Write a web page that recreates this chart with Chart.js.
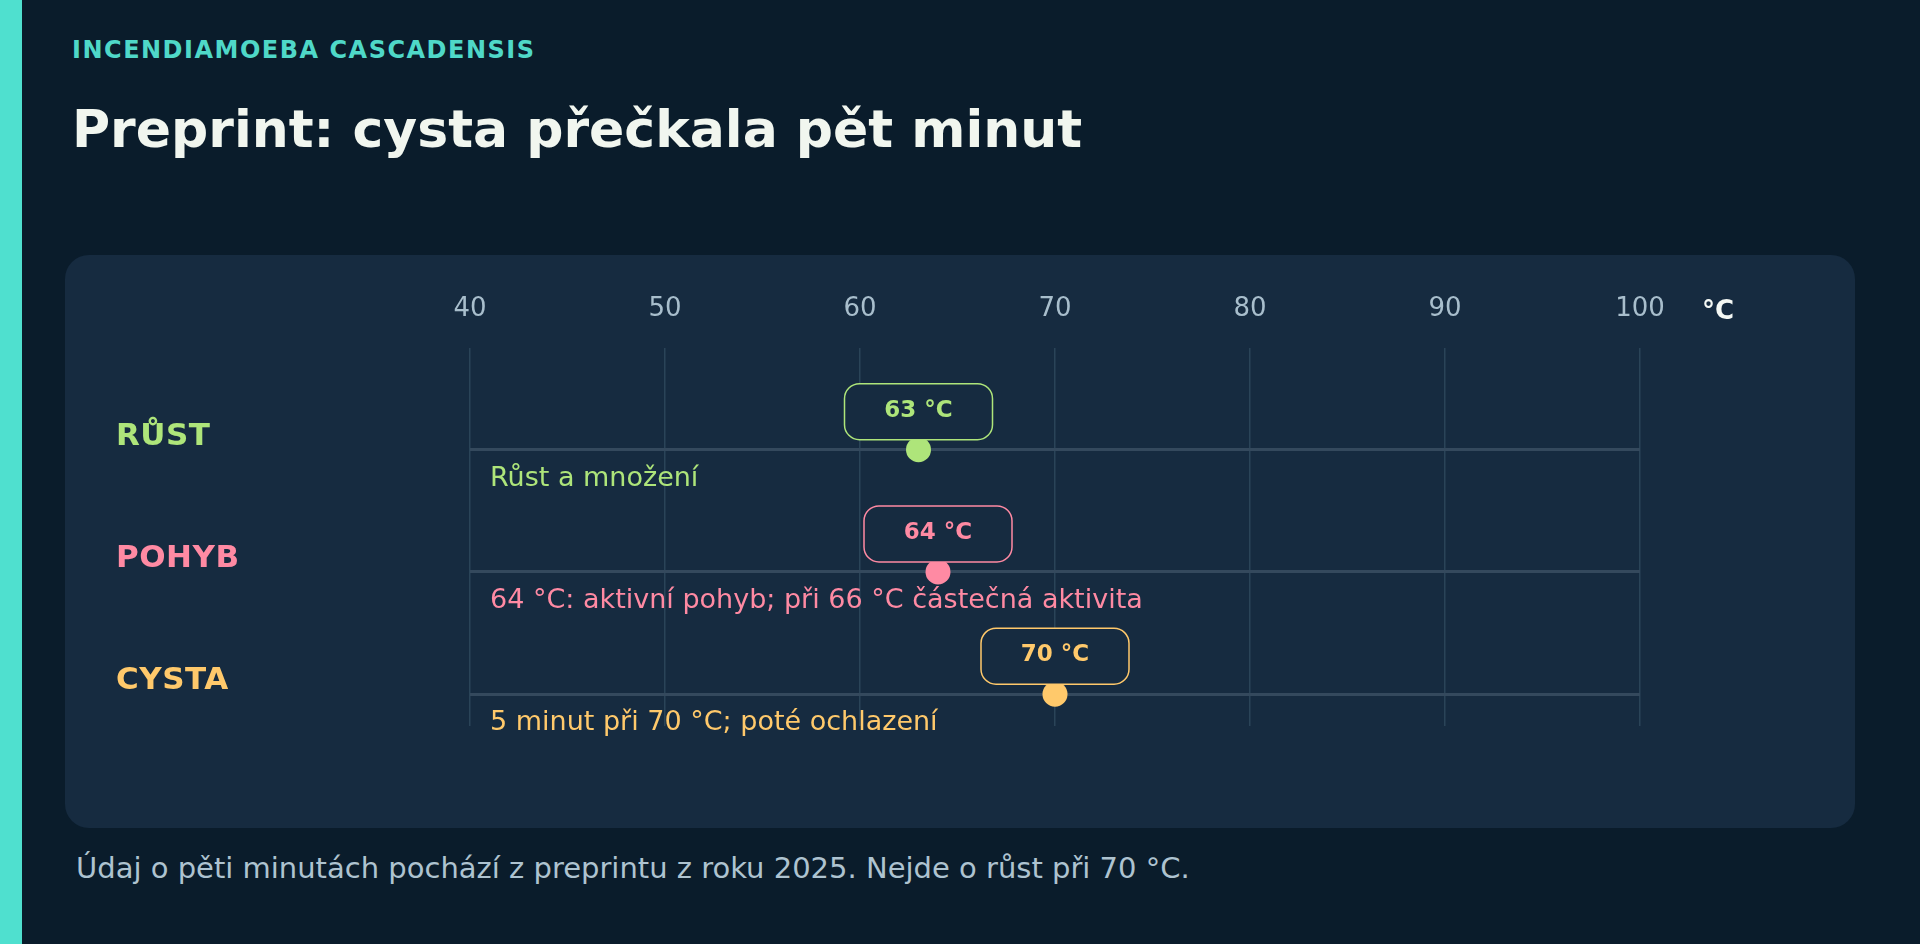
<!DOCTYPE html>
<html>
<head>
    <title>Incendiamoeba cascadensis</title>
    <meta charset="UTF-8">
    <script src="https://cdn.jsdelivr.net/npm/chart.js@4/dist/chart.umd.min.js"></script>
    <style>
        body { margin: 0; background: #0a1c2b; font-family: "DejaVu Sans", sans-serif; width: 1920px; height: 944px; overflow: hidden; position: relative; }
        .accent { position: absolute; left: 0; top: 0; width: 22px; height: 944px; background: #4fe0cf; }
        .kicker { position: absolute; left: 72px; top: 38px; font-size: 24px; line-height: 1; font-weight: bold; color: #4fd8c8; letter-spacing: 1.5px; }
        h1 { position: absolute; left: 72px; top: 103px; margin: 0; font-size: 52px; line-height: 1; font-weight: bold; color: #f1f6ef; }
        .panel { position: absolute; left: 65px; top: 255px; width: 1790px; height: 573px; background: #162b40; border-radius: 24px; }
        .foot { position: absolute; left: 76px; top: 854px; font-size: 29px; line-height: 1; color: #aec3d0; }
    </style>
</head>
<body>
<div class="accent"></div>
<div class="kicker">INCENDIAMOEBA CASCADENSIS</div>
<h1>Preprint: cysta přečkala pět minut</h1>
<div class="panel"><canvas id="myChart"></canvas></div>
<div class="foot">Údaj o pěti minutách pochází z preprintu z roku 2025. Nejde o růst při 70 °C.</div>
<script>
    // data
    const rows = ['RŮST', 'POHYB', 'CYSTA'];
    const temps = [63, 64, 70];
    const badges = ['63 °C', '64 °C', '70 °C'];
    const notes = ['Růst a množení', '64 °C: aktivní pohyb; při 66 °C částečná aktivita', '5 minut při 70 °C; poté ochlazení'];
    const xMin = 40, xMax = 100, xStep = 10;
    const unit = '°C';

    const colors = ['#aee57a', '#ff8aa3', '#ffc96b'];
    const panelBg = '#162b40';

    function roundRect(ctx, x, y, w, h, r) {
        ctx.beginPath();
        ctx.moveTo(x + r, y);
        ctx.arcTo(x + w, y, x + w, y + h, r);
        ctx.arcTo(x + w, y + h, x, y + h, r);
        ctx.arcTo(x, y + h, x, y, r);
        ctx.arcTo(x, y, x + w, y, r);
        ctx.closePath();
    }

    const annotate = {
        id: 'annotate',
        afterDatasetsDraw(chart) {
            const ctx = chart.ctx;
            const xs = chart.scales.x, ys = chart.scales.y;
            const area = chart.chartArea;
            ctx.save();
            rows.forEach((name, i) => {
                const px = xs.getPixelForValue(temps[i]);
                const py = ys.getPixelForValue(i);
                // badge
                const w = 148, h = 56;
                roundRect(ctx, px - w / 2, py - 66, w, h, 15);
                ctx.fillStyle = panelBg;
                ctx.fill();
                ctx.lineWidth = 1.5;
                ctx.strokeStyle = colors[i];
                ctx.stroke();
                ctx.fillStyle = colors[i];
                ctx.font = 'bold 23px "DejaVu Sans"';
                ctx.textAlign = 'center';
                ctx.textBaseline = 'middle';
                ctx.fillText(badges[i], px, py - 39);
                // note
                ctx.font = '27px "DejaVu Sans"';
                ctx.textAlign = 'left';
                ctx.fillText(notes[i], area.left + 20, py + 29);
                // row label
                ctx.font = 'bold 31px "DejaVu Sans"';
                ctx.letterSpacing = '0.5px';
                ctx.fillText(name, 51, py - 13);
                ctx.letterSpacing = '0px';
            });
            ctx.fillStyle = '#f4f8f4';
            ctx.font = 'bold 26px "DejaVu Sans"';
            ctx.textAlign = 'left';
            ctx.textBaseline = 'middle';
            ctx.fillText(unit, area.right + 62, 57);
            ctx.restore();
        }
    };

    let ctx = document.getElementById('myChart').getContext('2d');
    let myChart = new Chart(ctx, {
        type: 'scatter',
        data: {
            datasets: [{
                data: temps.map((t, i) => ({x: t, y: i})),
                pointRadius: 12.5,
                pointHoverRadius: 12.5,
                pointBorderWidth: 0,
                pointBackgroundColor: colors
            }]
        },
        options: {
            responsive: true,
            maintainAspectRatio: false,
            animation: false,
            layout: {padding: {top: 16, left: 405, right: 215, bottom: 102}},
            plugins: {legend: {display: false}, tooltip: {enabled: false}},
            scales: {
                x: {
                    position: 'top',
                    min: xMin,
                    max: xMax,
                    ticks: {stepSize: xStep, color: '#a8becc', font: {size: 26, family: 'DejaVu Sans'}, padding: 23},
                    grid: {color: '#2a4458', lineWidth: 1.5, drawTicks: false},
                    border: {display: false}
                },
                y: {
                    reverse: true,
                    min: -0.83,
                    max: 2.26,
                    afterBuildTicks: axis => { axis.ticks = rows.map((r, i) => ({value: i})); },
                    ticks: {display: false},
                    grid: {color: '#34495d', lineWidth: 3, drawTicks: false},
                    border: {display: false}
                }
            }
        },
        plugins: [annotate]
    });
</script>
</body>
</html>
